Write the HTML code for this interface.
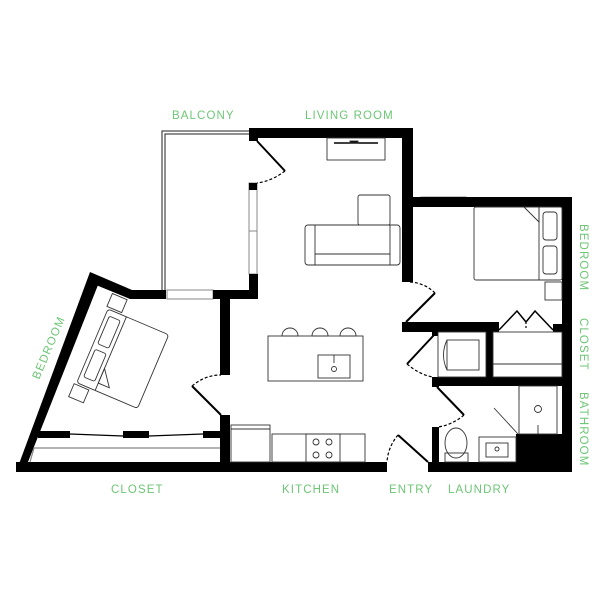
<!DOCTYPE html>
<html><head><style>
html,body{margin:0;padding:0;background:#fff}
svg{display:block}
text{font-family:"Liberation Sans",sans-serif;font-size:11.5px;fill:#6cc675;letter-spacing:1.1px}
</style></head><body>
<svg width="605" height="605" viewBox="0 0 605 605" xmlns="http://www.w3.org/2000/svg">
<g fill="none" stroke="#222" stroke-width="1">
<path d="M250 131 H162 V290"/>
<path d="M250 134 H165 V290"/>
<rect x="167" y="290" width="46" height="9" stroke="#888"/>
<rect x="249" y="183" width="8" height="91" stroke="#888"/>
<line x1="249" y1="231" x2="257" y2="231" stroke="#888"/>
<rect x="421" y="197" width="45" height="9" stroke="#888"/>
</g>
<g fill="#000">
<rect x="249" y="128" width="164" height="10"/>
<rect x="249" y="128" width="9" height="13"/>
<rect x="249" y="183" width="8" height="7"/>
<rect x="249" y="274" width="9" height="25"/>
<rect x="402" y="128" width="11" height="154"/>
<rect x="402" y="197" width="170" height="10"/>
<rect x="562" y="197" width="10" height="275"/>
<polygon points="90,272 132,290 166,290 166,299 130,299 96,285"/>
<rect x="213" y="290" width="45" height="9"/>
<polygon points="90,272 16,472 28,462 98,285"/>
<rect x="16" y="462" width="371" height="10"/>
<rect x="428" y="462" width="144" height="10"/>
<rect x="220" y="299" width="10" height="76"/>
<rect x="220" y="415" width="10" height="47"/>
<rect x="38" y="431" width="32" height="7"/>
<rect x="123" y="431" width="26" height="7"/>
<rect x="203" y="431" width="17" height="7"/>
<rect x="402" y="322" width="97" height="10"/>
<rect x="553" y="324" width="9" height="8"/>
<rect x="432" y="330" width="6" height="6"/>
<rect x="486" y="322" width="7" height="62"/>
<rect x="432" y="377" width="130" height="9"/>
<rect x="432" y="377" width="7" height="10"/>
<rect x="432" y="427" width="7" height="40"/>
<rect x="516" y="434" width="46" height="30"/>
</g>
<g fill="none" stroke="#000" stroke-width="1.2">
<line x1="70" y1="434" x2="123" y2="436"/><line x1="149" y1="436" x2="203" y2="434"/>
<line x1="34" y1="448" x2="220" y2="448" stroke="#888"/>
<line x1="30" y1="462" x2="34" y2="448" stroke="#888"/>
<line x1="257" y1="141" x2="285" y2="171" stroke-width="2"/>
<path d="M285 171 Q272 181 257 183" stroke-dasharray="3,2"/>
<line x1="221" y1="415" x2="192" y2="386" stroke-width="2"/>
<path d="M192 386 Q205 375 221 375" stroke-dasharray="3,2"/>
<line x1="406" y1="322" x2="435" y2="293" stroke-width="2"/>
<path d="M435 293 Q425 283 410 282" stroke-dasharray="3,2"/>
<line x1="434" y1="335" x2="407" y2="364" stroke-width="2"/>
<path d="M407 364 Q420 375 433 377" stroke-dasharray="3,2"/>
<line x1="437" y1="387" x2="464" y2="415" stroke-width="2"/>
<path d="M464 415 Q452 425 438 427" stroke-dasharray="3,2"/>
<line x1="428" y1="462" x2="398" y2="435" stroke-width="2"/>
<path d="M398 435 Q388 447 387 462" stroke-dasharray="3,2"/>
<path d="M499 330 L517 311 L526 322 M526 322 L535 311 L553 330" stroke-width="1.5"/>
<path d="M526 322 V330" stroke-dasharray="2,2"/>
</g>
<g fill="none" stroke="#333" stroke-width="0.9">
<g transform="translate(108,309) rotate(23)">
<rect x="0" y="0" width="66" height="80" rx="3"/>
<line x1="20" y1="0" x2="20" y2="80"/>
<rect x="4" y="6" width="12" height="30" rx="2"/>
<rect x="4" y="42" width="12" height="30" rx="2"/>
<polygon points="20,56 20,72 32,72"/>
<rect x="-2" y="-16" width="16" height="14"/>
<rect x="-2" y="82" width="16" height="14"/>
</g>
<rect x="327" y="138" width="58" height="22"/>
<line x1="334" y1="143" x2="378" y2="143" stroke="#000" stroke-width="1.5"/>
<rect x="350" y="141" width="8" height="2" fill="#000"/>
<rect x="358" y="195" width="32" height="30" rx="2"/>
<rect x="305" y="225" width="95" height="40" rx="3"/>
<line x1="315" y1="225" x2="315" y2="265"/><line x1="390" y1="225" x2="390" y2="265"/>
<line x1="315" y1="254" x2="390" y2="254"/>
<rect x="268" y="336" width="95" height="45"/>
<rect x="318" y="355" width="32" height="23"/>
<circle cx="334" cy="369" r="2.5"/>
<line x1="334" y1="355" x2="334" y2="363"/>
<path d="M282 336 a8 8 0 0 1 16 0 z M312 336 a8 8 0 0 1 16 0 z M340 336 a8 8 0 0 1 16 0 z"/>
<rect x="231" y="425" width="39" height="37"/>
<line x1="231" y1="429" x2="270" y2="429"/>
<rect x="272" y="434" width="93" height="28"/>
<rect x="306" y="434" width="34" height="28"/>
<circle cx="316" cy="442" r="3"/><circle cx="329" cy="442" r="3"/>
<circle cx="316" cy="455" r="3"/><circle cx="329" cy="455" r="3"/>
<rect x="474" y="207" width="88" height="73" rx="2"/>
<line x1="539" y1="207" x2="539" y2="280"/>
<rect x="543" y="212" width="14" height="28" rx="3"/>
<rect x="543" y="246" width="14" height="28" rx="3"/>
<polygon points="524,207 539,222 539,207"/>
<rect x="545" y="282" width="17" height="18"/>
<rect x="438" y="332" width="48" height="45"/>
<rect x="447" y="340" width="32" height="30"/>
<path d="M447 340 Q440 355 447 370"/>
<rect x="493" y="332" width="69" height="45"/>
<line x1="493" y1="364" x2="562" y2="364"/>
<rect x="519" y="386" width="38" height="48"/>
<line x1="519" y1="386" x2="519" y2="400"/>
<circle cx="538" cy="409" r="3.5"/>
<line x1="538" y1="425" x2="538" y2="434"/>
<line x1="494" y1="408" x2="518" y2="434"/>
<ellipse cx="456" cy="443" rx="11" ry="15"/>
<rect x="445" y="453" width="23" height="9"/>
<rect x="479" y="437" width="37" height="25"/>
<rect x="486" y="443" width="22" height="14"/>
<circle cx="497" cy="449" r="2"/>
</g>
<text x="172" y="119">BALCONY</text>
<text x="305" y="119">LIVING ROOM</text>
<text x="111" y="493">CLOSET</text>
<text x="282" y="493">KITCHEN</text>
<text x="389" y="493">ENTRY</text>
<text x="448" y="493">LAUNDRY</text>
<text transform="translate(580,224) rotate(90)">BEDROOM</text>
<text transform="translate(580,318) rotate(90)">CLOSET</text>
<text transform="translate(580,392) rotate(90)">BATHROOM</text>
<text transform="translate(39,380) rotate(-67)">BEDROOM</text>
</svg>
</body></html>
